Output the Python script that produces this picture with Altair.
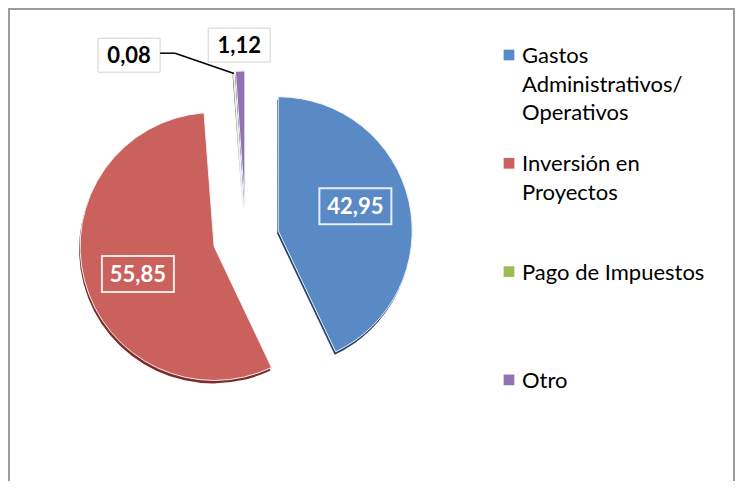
import altair as alt
import pandas as pd

# ---- data ----
CATEGORIES = ["Gastos Administrativos/ Operativos", "Inversión en Proyectos",
              "Pago de Impuestos", "Otro"]
VALUES = [42.95, 55.85, 0.08, 1.12]
LABELS = ["42,95", "55,85", "0,08", "1,12"]
LEGEND_TEXT = ["Gastos\nAdministrativos/\nOperativos", "Inversión en\nProyectos",
               "Pago de Impuestos", "Otro"]

# ---- styles / layout ----
COLORS = ["#5A8AC5", "#CB615C", "#9BBB59", "#8F74B1"]
SHADOWS = ["#25466f", "#7e2d2a", "#5f7a2e", "#4f3c6b"]
W, H = 727, 473
CX, CY = 238, 230        # pie centre
R = 134                  # radius
EXPLODE = 33             # explosion distance
FONT = "Lato"

df = pd.DataFrame({
    "cat": CATEGORIES,
    "value": VALUES,
    "label": LABELS,
    "legend": LEGEND_TEXT,
    "order": list(range(len(CATEGORIES))),
})

base = (
    alt.Chart(df)
    .transform_joinaggregate(total="sum(value)")
    .transform_window(cum="sum(value)", sort=[alt.SortField("order")], frame=[None, 0])
    .transform_calculate(
        t0="2*PI*(datum.cum-datum.value)/datum.total",
        t1="2*PI*datum.cum/datum.total",
        mid="(datum.t0+datum.t1)/2",
        cx=f"{CX}+{EXPLODE}*sin(datum.mid)",
        cy=f"{CY}-{EXPLODE}*cos(datum.mid)",
        inner="datum.value >= 5",
        lr=f"datum.inner ? 81 : {R + 26}",
        la="datum.inner ? datum.mid-5*PI/180 : datum.mid",
        lx=f"datum.value < 0.5 ? {CX}+217*sin(-32.6*PI/180) : datum.cx+datum.lr*sin(datum.la)",
        ly=f"datum.value < 0.5 ? {CY}-217*cos(-32.6*PI/180) : datum.cy-datum.lr*cos(datum.la)",
        hw="datum.inner ? 36 : 31",
        hh="datum.inner ? 18 : 17",
        bx1="datum.lx-datum.hw",
        bx2="datum.lx+datum.hw",
        by1="datum.ly-datum.hh",
        by2="datum.ly+datum.hh",
        kx="datum.lx+datum.hw+15",
        ky="datum.ly-2",
        tx=f"datum.cx+{R - 2}*sin(datum.mid)",
        ty=f"datum.cy-{R - 2}*cos(datum.mid)",
        legy="55+datum.order*108.3",
        sqy="datum.legy-8",
    )
)

xy = dict(x=alt.X("cx:Q", scale=None), y=alt.Y("cy:Q", scale=None),
          theta=alt.Theta("t0:Q", scale=None), theta2=alt.Theta2("t1:Q"))

shadow = base.mark_arc(radius=R, xOffset=-1, yOffset=3).encode(
    fill=alt.Fill("cat:N", scale=alt.Scale(domain=CATEGORIES, range=SHADOWS), legend=None),
    **xy,
)

slices = base.mark_arc(radius=R, stroke="#eef1f5", strokeWidth=1).encode(
    color=alt.Color("cat:N", scale=alt.Scale(domain=CATEGORIES, range=COLORS), legend=None),
    **xy,
)

box_enc = dict(x=alt.X("bx1:Q", scale=None), x2="bx2:Q",
               y=alt.Y("by1:Q", scale=None), y2="by2:Q")

inner_box = base.transform_filter("datum.value >= 5").mark_rect(
    filled=False, stroke="white", strokeWidth=2, strokeOpacity=0.85).encode(**box_enc)

outer_box = base.transform_filter("datum.value < 5").mark_rect(
    fill="white", stroke="#d4d4d4", strokeWidth=1).encode(**box_enc)

leader1 = base.transform_filter("datum.value < 0.5").mark_rule(
    color="black", strokeWidth=1.5).encode(
    x=alt.X("bx2:Q", scale=None), x2="kx:Q",
    y=alt.Y("ky:Q", scale=None), y2="ky:Q")

leader2 = base.transform_filter("datum.value < 0.5").mark_rule(
    color="black", strokeWidth=1.5).encode(
    x=alt.X("kx:Q", scale=None), x2="tx:Q",
    y=alt.Y("ky:Q", scale=None), y2="ty:Q")

txt_enc = dict(x=alt.X("lx:Q", scale=None), y=alt.Y("ly:Q", scale=None), text="label:N")

inner_txt = base.transform_filter("datum.value >= 5").mark_text(
    font=FONT, fontSize=22, fontWeight="bold", color="white",
    align="center", baseline="middle", dy=1).encode(**txt_enc)

outer_txt = base.transform_filter("datum.value < 5").mark_text(
    font=FONT, fontSize=22, fontWeight="bold", color="black",
    align="center", baseline="middle", dy=1).encode(**txt_enc)

leg_sq = base.mark_square(size=115, opacity=1).encode(
    x=alt.value(501), y=alt.Y("sqy:Q", scale=None),
    color=alt.Color("cat:N", scale=alt.Scale(domain=CATEGORIES, range=COLORS), legend=None),
)

leg_txt = base.mark_text(
    font=FONT, fontSize=22, align="left", baseline="alphabetic",
    lineBreak="\n", lineHeight=28.5, color="black").encode(
    x=alt.value(514), y=alt.Y("legy:Q", scale=None), text="legend:N")

one = pd.DataFrame({"a": [0]})
border_l = alt.Chart(one).mark_rule(color="#9c9c9c", strokeWidth=2).encode(
    x=alt.value(1), y=alt.value(0), y2=alt.value(H))
border_t = alt.Chart(one).mark_rule(color="#9c9c9c", strokeWidth=2).encode(
    x=alt.value(0), x2=alt.value(W), y=alt.value(1))
border_r = alt.Chart(one).mark_rule(color="#9c9c9c", strokeWidth=2).encode(
    x=alt.value(W - 1), y=alt.value(0), y2=alt.value(H))

chart = (
    alt.layer(shadow, slices, inner_box, outer_box, leader1, leader2,
              inner_txt, outer_txt, leg_sq, leg_txt, border_l, border_t, border_r)
    .properties(width=W, height=H, padding=0, autosize=alt.AutoSizeParams(type="none"))
    .configure_view(stroke=None)
)

chart.save("out.html", embed_options={"renderer": "svg", "actions": False})
